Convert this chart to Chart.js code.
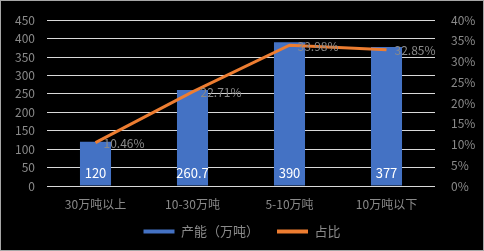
<!DOCTYPE html>
<html>
<head>
<meta charset="utf-8">
<script src="https://cdn.jsdelivr.net/npm/chart.js@4"></script>
<style>
  html, body { margin: 0; padding: 0; background: #fff; }
  #wrap { width: 484px; height: 251px; box-sizing: border-box; border: 1px solid #a6a6a6; background: #000; }
</style>
</head>
<body>
<div id="wrap"><canvas id="c" width="482" height="249"></canvas></div>
<script>
const categories = ['30万吨以上', '10-30万吨', '5-10万吨', '10万吨以下'];
const capacity = [120, 260.7, 390, 377];
const share = [10.46, 22.71, 33.98, 32.85];

const FONT = '"Noto Sans CJK SC", "Noto Sans", sans-serif';
const TICK = '#8a8a8a';

// value labels: white inside bar bottom, grey to the right of line points
const labelPlugin = {
  afterDatasetsDraw: chart => {
    const ctx = chart.ctx;
    ctx.save();
    ctx.font = `13px ${FONT}`;
    ctx.textBaseline = 'middle';
    chart.getDatasetMeta(0).data.forEach((bar, i) => {
      ctx.fillStyle = '#fff';
      ctx.textAlign = 'center';
      ctx.fillText(String(capacity[i]), bar.x, bar.base - 12);
    });
    ctx.font = `12px ${FONT}`;
    chart.getDatasetMeta(1).data.forEach((pt, i) => {
      ctx.fillStyle = TICK;
      ctx.textAlign = 'left';
      ctx.fillText(share[i].toFixed(2) + '%', pt.x + 8, pt.y + 1);
    });
    ctx.restore();
  },
};

new Chart(document.getElementById('c'), {
  data: {
    labels: categories,
    datasets: [
      {
        type: 'bar', label: '产能（万吨）', data: capacity, yAxisID: 'y',
        backgroundColor: '#4472C4', borderWidth: 0,
        categoryPercentage: 1, barPercentage: 0.32, order: 2,
      },
      {
        type: 'line', label: '占比', data: share, yAxisID: 'y1',
        borderColor: '#ED7D31', backgroundColor: '#ED7D31', borderWidth: 3,
        pointRadius: 0, tension: 0, order: 1,
      },
    ],
  },
  options: {
    responsive: false,
    animation: false,
    layout: { padding: { top: 14, right: 0, left: 0, bottom: 2 } },
    scales: {
      x: {
        grid: { display: false },
        border: { display: false },
        ticks: { color: TICK, font: { family: FONT, size: 12 }, padding: 3 },
        afterFit: s => {
          s.height = 21;
          s._computeLabelArea = () => undefined; // don't clip labels to the short axis box
        },
      },
      y: {
        position: 'left', min: 0, max: 450,
        ticks: { stepSize: 50, color: TICK, font: { family: FONT, size: 12 }, padding: 12 },
        grid: { color: '#d9d9d9', lineWidth: 1, drawTicks: false },
        border: { display: false },
        afterFit: s => { s.width = 46; },
      },
      y1: {
        position: 'right', min: 0, max: 40,
        ticks: { stepSize: 5, color: TICK, font: { family: FONT, size: 12 }, padding: 8,
          callback: v => v + '%' },
        grid: { display: false },
        border: { display: false },
        afterFit: s => { s.width = 48; },
      },
    },
    plugins: {
      legend: {
        position: 'bottom',
        labels: {
          color: TICK, font: { family: FONT, size: 13 },
          boxWidth: 31, boxHeight: 4, padding: 18,
          generateLabels: chart => chart.data.datasets.map((d, i) => ({
            text: d.label, fillStyle: d.backgroundColor, strokeStyle: d.backgroundColor,
            lineWidth: 0, datasetIndex: i, fontColor: TICK,
          })),
        },
      },
      tooltip: { enabled: false },
    },
  },
  plugins: [labelPlugin],
});
</script>
</body>
</html>
